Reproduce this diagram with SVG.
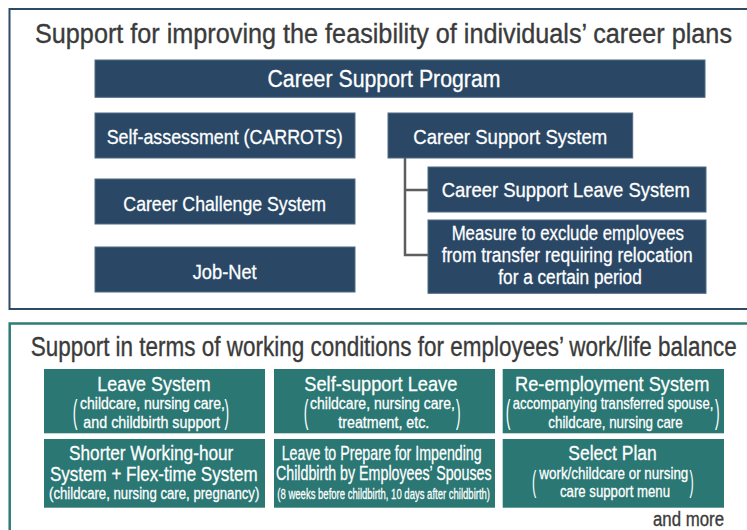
<svg xmlns="http://www.w3.org/2000/svg" width="747" height="530" viewBox="0 0 747 530">
<style>
text{font-family:"Liberation Sans Narrow","Liberation Sans",Arial,sans-serif;}
.title{font-size:27px;fill:#3b3b3b;stroke:#3b3b3b;stroke-width:0.35;}
.db{fill:#2a4866;stroke:#4f6a86;stroke-width:1;}
.tl{fill:#2a7773;}
.w{fill:#ffffff;stroke:#ffffff;stroke-width:0.3;text-anchor:middle;}
.b21{font-size:21px;}
.b20{font-size:20px;}
.h{font-size:20.5px;}
.s{font-size:16.5px;}
.xs{font-size:15px;}
.par{fill:#ffffff;font-size:33px;text-anchor:middle;}
.conn{fill:none;stroke:#5e5e5e;stroke-width:2.5;}
</style>
<rect x="0" y="0" width="747" height="530" fill="#ffffff"/>

<g id="panel-career">
<rect x="9.5" y="9" width="760" height="300" fill="none" stroke="#2d4a66" stroke-width="2"/>
<text class="title" x="35" y="42.5" textLength="697" lengthAdjust="spacingAndGlyphs">Support for improving the feasibility of individuals’ career plans</text>
</g>

<g id="panel-worklife">
<rect x="9.7" y="323.5" width="760" height="230" fill="none" stroke="#2e7b77" stroke-width="2.5"/>
<text class="title" x="30.7" y="355.5" textLength="706" lengthAdjust="spacingAndGlyphs">Support in terms of working conditions for employees’ work/life balance</text>
</g>

<g id="connectors">
<path class="conn" d="M405,158 V255 H428 M405,190 H428"/>
</g>

<g id="career-support-program">
<rect class="db" x="95" y="60" width="610" height="37.3"/>
<text class="w" x="384" y="87" font-size="23" textLength="233" lengthAdjust="spacingAndGlyphs">Career Support Program</text>
</g>

<g id="self-assessment">
<rect class="db" x="95" y="113" width="260" height="45"/>
<text class="w b21" x="224.7" y="144" textLength="236" lengthAdjust="spacingAndGlyphs">Self-assessment (CARROTS)</text>
</g>

<g id="career-challenge">
<rect class="db" x="95" y="179" width="260" height="45"/>
<text class="w b21" x="224.7" y="210.7" textLength="202.7" lengthAdjust="spacingAndGlyphs">Career Challenge System</text>
</g>

<g id="job-net">
<rect class="db" x="95" y="247" width="260" height="45"/>
<text class="w b21" x="224.7" y="279" textLength="64" lengthAdjust="spacingAndGlyphs">Job-Net</text>
</g>

<g id="career-support-system">
<rect class="db" x="388" y="113" width="244.7" height="45"/>
<text class="w b21" x="510.3" y="144" textLength="194" lengthAdjust="spacingAndGlyphs">Career Support System</text>
</g>

<g id="career-support-leave">
<rect class="db" x="428" y="167" width="278" height="45"/>
<text class="w b21" x="565.8" y="197.3" textLength="248.3" lengthAdjust="spacingAndGlyphs">Career Support Leave System</text>
</g>

<g id="exclude-transfer">
<rect class="db" x="428" y="220" width="278" height="73.3"/>
<text class="w b20" x="567.8" y="240" textLength="232.3" lengthAdjust="spacingAndGlyphs">Measure to exclude employees</text>
<text class="w b20" x="567.2" y="262.3" textLength="251" lengthAdjust="spacingAndGlyphs">from transfer requiring relocation</text>
<text class="w b20" x="570" y="284" textLength="143.4" lengthAdjust="spacingAndGlyphs">for a certain period</text>
</g>

<g id="leave-system">
<rect class="tl" x="44" y="369" width="221" height="64.3"/>
<text class="w h" x="154" y="391" textLength="113.4" lengthAdjust="spacingAndGlyphs">Leave System</text>
<text class="w s" x="152.5" y="409.3" textLength="145" lengthAdjust="spacingAndGlyphs">childcare, nursing care,</text>
<text class="w s" x="151.7" y="427.7" textLength="136.7" lengthAdjust="spacingAndGlyphs">and childbirth support</text>
<text class="par" transform="translate(75,423) scale(0.42,1)">(</text>
<text class="par" transform="translate(226.7,423) scale(0.42,1)">)</text>
</g>

<g id="self-support-leave">
<rect class="tl" x="274" y="369" width="221" height="64.3"/>
<text class="w h" x="380.8" y="391" textLength="153" lengthAdjust="spacingAndGlyphs">Self-support Leave</text>
<text class="w s" x="382.5" y="409.3" textLength="145" lengthAdjust="spacingAndGlyphs">childcare, nursing care,</text>
<text class="w s" x="383.8" y="427.7" textLength="91" lengthAdjust="spacingAndGlyphs">treatment, etc.</text>
<text class="par" transform="translate(306,423) scale(0.42,1)">(</text>
<text class="par" transform="translate(458.3,423) scale(0.42,1)">)</text>
</g>

<g id="re-employment">
<rect class="tl" x="502.7" y="369" width="221.3" height="64.3"/>
<text class="w h" x="612.2" y="391" textLength="194.3" lengthAdjust="spacingAndGlyphs">Re-employment System</text>
<text class="w s" x="613" y="409.3" textLength="200.6" lengthAdjust="spacingAndGlyphs">accompanying transferred spouse,</text>
<text class="w s" x="615.5" y="427.7" textLength="134.4" lengthAdjust="spacingAndGlyphs">childcare, nursing care</text>
<text class="par" transform="translate(508,423) scale(0.42,1)">(</text>
<text class="par" transform="translate(717.3,423) scale(0.42,1)">)</text>
</g>

<g id="shorter-working-hour">
<rect class="tl" x="44" y="439" width="221" height="68.7"/>
<text class="w h" x="151.2" y="460" textLength="164.3" lengthAdjust="spacingAndGlyphs">Shorter Working-hour</text>
<text class="w h" x="153.8" y="480.7" textLength="207.7" lengthAdjust="spacingAndGlyphs">System + Flex-time System</text>
<text class="w s" x="154.2" y="499.3" textLength="210.3" lengthAdjust="spacingAndGlyphs">(childcare, nursing care, pregnancy)</text>
</g>

<g id="prepare-childbirth">
<rect class="tl" x="274" y="439" width="221" height="68.7"/>
<text class="w h" x="381.7" y="459.5" textLength="200" lengthAdjust="spacingAndGlyphs">Leave to Prepare for Impending</text>
<text class="w h" x="383.8" y="480.3" textLength="215.7" lengthAdjust="spacingAndGlyphs">Childbirth by Employees’ Spouses</text>
<text class="w xs" x="383.7" y="499.3" textLength="212.7" lengthAdjust="spacingAndGlyphs">(8 weeks before childbirth, 10 days after childbirth)</text>
</g>

<g id="select-plan">
<rect class="tl" x="502.7" y="439" width="221.3" height="68.7"/>
<text class="w h" x="612.5" y="460" textLength="88.4" lengthAdjust="spacingAndGlyphs">Select Plan</text>
<text class="w s" x="613.8" y="479.3" textLength="149" lengthAdjust="spacingAndGlyphs">work/childcare or nursing</text>
<text class="w s" x="615" y="497.3" textLength="110" lengthAdjust="spacingAndGlyphs">care support menu</text>
<text class="par" transform="translate(534,492) scale(0.42,1)" style="font-size:30px">(</text>
<text class="par" transform="translate(691.7,492) scale(0.42,1)" style="font-size:30px">)</text>
</g>

<g id="and-more">
<text x="724" y="525.7" font-size="20" fill="#3b3b3b" stroke="#3b3b3b" stroke-width="0.35" text-anchor="end" textLength="71" lengthAdjust="spacingAndGlyphs">and more</text>
</g>
</svg>
